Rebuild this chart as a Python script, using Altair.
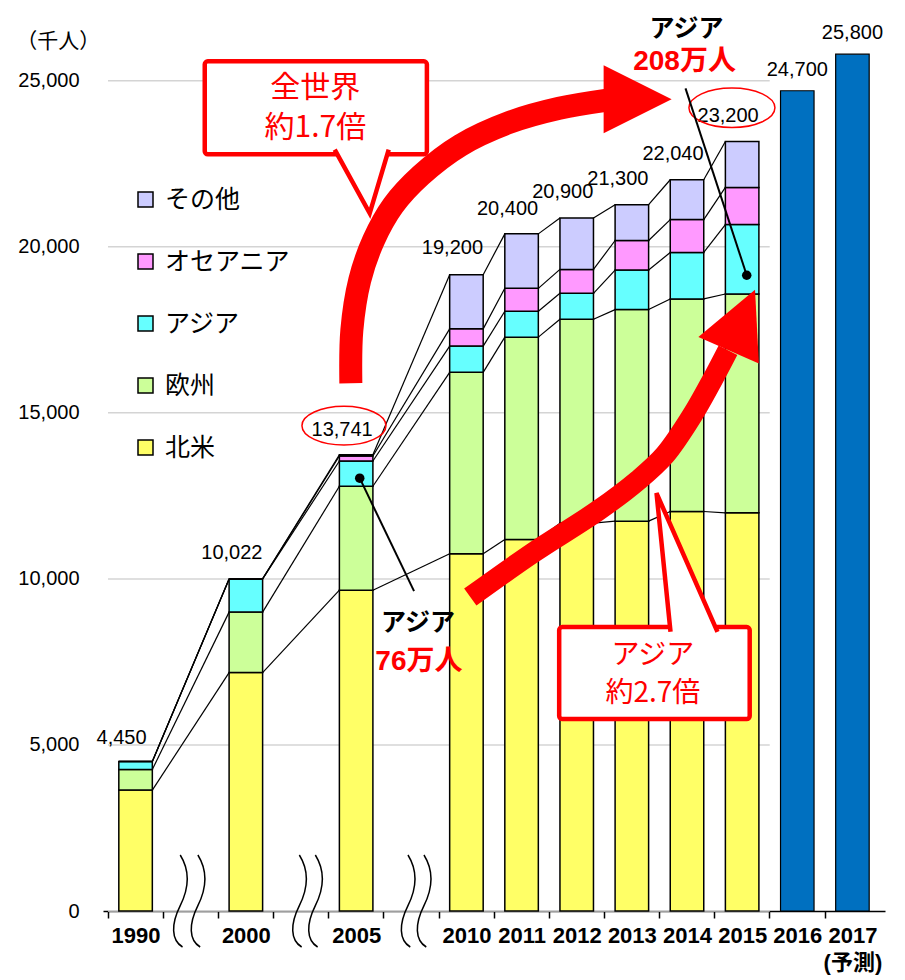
import json
import altair as alt
import pandas as pd

# ---------------- data (thousand visitors) ----------------
years = ["1990", "2000", "2005", "2010", "2011", "2012", "2013", "2014", "2015"]
north_america = [3640, 7180, 9660, 10760, 11190, 11680, 11740, 12030, 11990]
europe = [620, 1820, 3130, 5460, 6090, 6140, 6370, 6400, 6590]
asia = [240, 1000, 760, 790, 780, 780, 1190, 1400, 2090]
oceania = [0, 0, 150, 520, 690, 720, 890, 990, 1120]
others = [0, 0, 40, 1630, 1640, 1550, 1080, 1200, 1380]
total_labels = [4450, 10022, 13741, 19200, 20400, 20900, 21300, 22040, 23200]

forecast_years = ["2016", "2017"]
forecast_totals = [24700, 25800]

y_ticks = [0, 5000, 10000, 15000, 20000, 25000]

# axis slots (blank slots are the broken-axis gaps)
categories = ["1990", "", "2000", "", "2005", "", "2010", "2011",
              "2012", "2013", "2014", "2015", "2016", "2017"]
legend_regions = ["その他", "オセアニア", "アジア", "欧州", "北米"]
legend_colors = ["#CCCCFF", "#FF99FF", "#66FFFF", "#CCFF99", "#FFFF66"]
stack_regions = ["北米", "欧州", "アジア", "オセアニア", "その他"]
series = {"北米": north_america, "欧州": europe, "アジア": asia,
          "オセアニア": oceania, "その他": others}


def slot(year):
    return categories.index(year)


# ---------------- tables ----------------
rows, cum = [], []
for j, yr in enumerate(years):
    acc, c = 0, []
    for k, reg in enumerate(stack_regions):
        v = series[reg][j]
        rows.append({"year": yr, "slot": slot(yr), "region": reg,
                     "lo": acc, "hi": acc + v, "ord": k})
        acc += v
        c.append(acc)
    cum.append(c)
stack_df = pd.DataFrame(rows)

conn_rows = []
for j in range(len(years) - 1):
    for lvl in range(len(stack_regions)):
        conn_rows.append({"s1": slot(years[j]), "s2": slot(years[j + 1]),
                          "y": cum[j][lvl], "y2": cum[j + 1][lvl]})
conn_df = pd.DataFrame(conn_rows)

label_df = pd.DataFrame({"slot": [slot(y) for y in years], "lab": total_labels})
fc_df = pd.DataFrame({"slot": [slot(y) for y in forecast_years], "total": forecast_totals})
grid_df = pd.DataFrame({"gy": y_ticks,
                        "g0": [slot(years[0]) - 0.5] * len(y_ticks),
                        "g1": [slot(years[-1]) + 0.5] * len(y_ticks)})

# ---------------- scales / axes ----------------
W, H = 782, 890
STEP = W / len(categories)
BAR_W = STEP * 0.6
HALF_BAR = BAR_W / 2

xs = alt.Scale(domain=[-0.5, len(categories) - 0.5], nice=False, zero=False)
ys = alt.Scale(domain=[0, 26800], nice=False, zero=True)

label_list = [c if c != "2017" else ["2017", "\u00a0\u00a0\u00a0\u00a0(予測)"] for c in categories]
x_axis = alt.Axis(
    title=None, values=list(range(len(categories))),
    labelExpr=json.dumps(label_list, ensure_ascii=False) + "[datum.value]",
    labelFontSize=22, labelFontWeight="bold", labelFont="Liberation Sans, Noto Sans CJK JP",
    labelColor="black", labelAngle=0, labelPadding=7, labelLineHeight=27,
    labelOverlap=False, labelFlush=False, labelBaseline="top",
    tickOffset=-STEP / 2, labelOffset=STEP / 2,
    tickSize=7, tickColor="black", tickWidth=1.5,
    domainColor="black", domainWidth=1.5, grid=False,
)
y_axis = alt.Axis(
    title=None, values=y_ticks, labelExpr="format(datum.value, ',')",
    domain=False, ticks=False, labelPadding=24, labelFontSize=20,
    labelFont="Liberation Sans", labelColor="black", grid=False,
)


def X(field):
    return alt.X(field, scale=xs, axis=x_axis)


def Y(field):
    return alt.Y(field, scale=ys, axis=y_axis)


grid = alt.Chart(grid_df).mark_rule(color="#D4D4D4", strokeWidth=1.5).encode(
    x=X("g0:Q"), x2="g1:Q", y=Y("gy:Q"))

bars = alt.Chart(stack_df).mark_bar(width=BAR_W, stroke="black", strokeWidth=1.5).encode(
    x=X("slot:Q"),
    y=Y("lo:Q"),
    y2="hi:Q",
    color=alt.Color("region:N",
                    scale=alt.Scale(domain=legend_regions, range=legend_colors),
                    legend=alt.Legend(orient="none", legendX=30, legendY=166, title=None,
                                      symbolType="square", symbolSize=225,
                                      symbolStrokeColor="black", symbolStrokeWidth=1.5,
                                      labelFontSize=25, labelFont="Noto Sans CJK JP",
                                      labelColor="black", rowPadding=36, labelOffset=7,
                                      padding=0)),
)

connectors = alt.Chart(conn_df).mark_rule(
    color="black", strokeWidth=1.2, xOffset=HALF_BAR, x2Offset=-HALF_BAR
).encode(x=X("s1:Q"), x2="s2:Q", y=Y("y:Q"), y2="y2:Q")

blue = alt.Chart(fc_df).mark_bar(width=BAR_W, color="#0070C0", stroke="black",
                                 strokeWidth=1.2).encode(x=X("slot:Q"), y=Y("total:Q"))

labels = alt.Chart(label_df).mark_text(
    dx=-14, dy=-25, fontSize=20, font="Liberation Sans", color="black"
).encode(x=X("slot:Q"), y=Y("lab:Q"), text=alt.Text("lab:Q", format=","))
fc_labels = alt.Chart(fc_df).mark_text(
    dx=0, dy=-21, fontSize=20, font="Liberation Sans", color="black"
).encode(x=X("slot:Q"), y=Y("total:Q"), text=alt.Text("total:Q", format=","))

# ---------------- annotations (slot index, thousand visitors) ----------------
RED = "#FF0000"


def enc(ch):
    return ch.encode(x=X("ax:Q"), y=Y("ay:Q"))


def pts(xv, yv):
    return pd.DataFrame({"ax": xv, "ay": yv, "i": list(range(len(xv)))})


world_arrow_x = [3.904, 3.922, 4.065, 4.316, 4.674, 5.175, 5.891, 6.786, 7.682, 8.523]
world_arrow_y = [15893, 17488, 18993, 20197, 21251, 22154, 23057, 23749, 24171, 24411]
asia_arrow_x = [6.070, 7.198, 8.398, 9.114, 9.597, 10.098, 10.457, 10.743]
asia_arrow_y = [9452, 10776, 12070, 12973, 13726, 14930, 15983, 16886]


def arrow_body(xv, yv, w):
    return alt.Chart(pts(xv, yv)).mark_line(
        color=RED, strokeWidth=w, strokeCap="butt", interpolate="catmull-rom"
    ).encode(x=X("ax:Q"), y=Y("ay:Q"), order="i:Q")


arrow_world = arrow_body(world_arrow_x, world_arrow_y, 23)
arrow_asia = arrow_body(asia_arrow_x, asia_arrow_y, 21)

HEAD = "M-1,-1L1,0L-1,1Z"
head_world = enc(alt.Chart(pts([9.105], [24442])).mark_point(
    shape=HEAD, size=4624, angle=0, filled=True, color=RED, opacity=1, strokeWidth=0))
head_asia = enc(alt.Chart(pts([10.994], [17797])).mark_point(
    shape=HEAD, size=4356, angle=293.6, filled=True, color=RED, opacity=1, strokeWidth=0))

ELL = "M-1,0A1,0.46,0,1,1,1,0A1,0.46,0,1,1,-1,0Z"
ell1 = enc(alt.Chart(pts([3.779], [14614])).mark_point(
    shape=ELL, size=7056, filled=False, color=RED, strokeWidth=1.5, opacity=1))
ell2 = enc(alt.Chart(pts([10.815], [24186])).mark_point(
    shape=ELL, size=7396, filled=False, color=RED, strokeWidth=1.5, opacity=1))

boxes = alt.Chart(pd.DataFrame({
    "x1": [1.2545, 7.682], "x2": [5.283, 11.137],
    "y1": [25585, 8549], "y2": [22786, 5779]})).mark_rect(
    fill="white", stroke=RED, strokeWidth=4.5, cornerRadius=3
).encode(x=X("x1:Q"), x2="x2:Q", y=Y("y1:Q"), y2="y2:Q")

tail_world = enc(alt.Chart(pts([4.101], [21898])).mark_point(
    shape="M-0.915,-1.16L0.271,1L0.915,-1.16", size=3481, filled=True,
    fill="white", stroke=RED, strokeWidth=4.5, opacity=1, strokeJoin="miter"))
tail_asia = enc(alt.Chart(pts([10.000], [10565])).mark_point(
    shape="M-0.246,1.07L-0.455,-1L0.455,1.07", size=17956, filled=True,
    fill="white", stroke=RED, strokeWidth=4.5, opacity=1, strokeJoin="miter"))


def texts(t, xv, yv, **kw):
    df = pd.DataFrame({"t": t, "ax": xv, "ay": yv})
    return alt.Chart(df).mark_text(**kw).encode(x=X("ax:Q"), y=Y("ay:Q"), text="t:N")


callout_world_txt = texts(["全世界", "約1.7倍"], [3.260, 3.260], [24772, 23569],
                          fontSize=30, font="Noto Sans CJK JP", color=RED)
callout_asia_txt = texts(["アジア", "約2.7倍"], [9.382, 9.382], [7676, 6532],
                         fontSize=28, font="Noto Sans CJK JP", color=RED)

pointers = alt.Chart(pd.DataFrame({
    "x1": [4.065, 11.083], "x2": [5.050, 9.973],
    "y1": [13033, 19144], "y2": [9632, 24772]})).mark_rule(
    color="black", strokeWidth=2
).encode(x=X("x1:Q"), x2="x2:Q", y=Y("y1:Q"), y2="y2:Q")
dots = enc(alt.Chart(pts([4.065, 11.083], [13033, 19144])).mark_circle(
    size=90, color="black", opacity=1))

asia_black = texts(["アジア", "アジア"], [5.121, 9.991], [8669, 26549],
                   fontSize=25, font="Noto Sans CJK JP", fontWeight="bold", color="black")
asia_red = texts(["76万人", "208万人"], [5.139, 9.955], [7495, 25555],
                 fontSize=28, font="Liberation Sans, Noto Sans CJK JP",
                 fontWeight="bold", color=RED)
unit_txt = texts(["（千人）"], [-2.165], [26157], fontSize=21, align="left",
                 font="Noto Sans CJK JP", color="black")

SQ = "M0,-1C0.25,-0.6 0.15,-0.2 0,0.1C-0.2,0.5 -0.2,0.85 0.05,1"
squiggles = enc(alt.Chart(pts([0.81, 1.13, 2.97, 3.26, 4.94, 5.23], [301] * 6)).mark_point(
    shape=SQ, size=8464, filled=False, color="black", strokeWidth=1.5, opacity=1))

chart = alt.layer(
    grid, bars, connectors, blue, labels, fc_labels,
    ell1, ell2, arrow_world, arrow_asia, head_world, head_asia,
    boxes, tail_world, tail_asia, callout_world_txt, callout_asia_txt,
    pointers, dots, asia_black, asia_red, unit_txt, squiggles,
).properties(
    width=W, height=H,
    autosize=alt.AutoSizeParams(type="none"),
    padding={"left": 95, "top": 13, "right": 10, "bottom": 64},
).configure_view(stroke=None)

chart.save("out.html", embed_options={"renderer": "svg", "actions": False})
